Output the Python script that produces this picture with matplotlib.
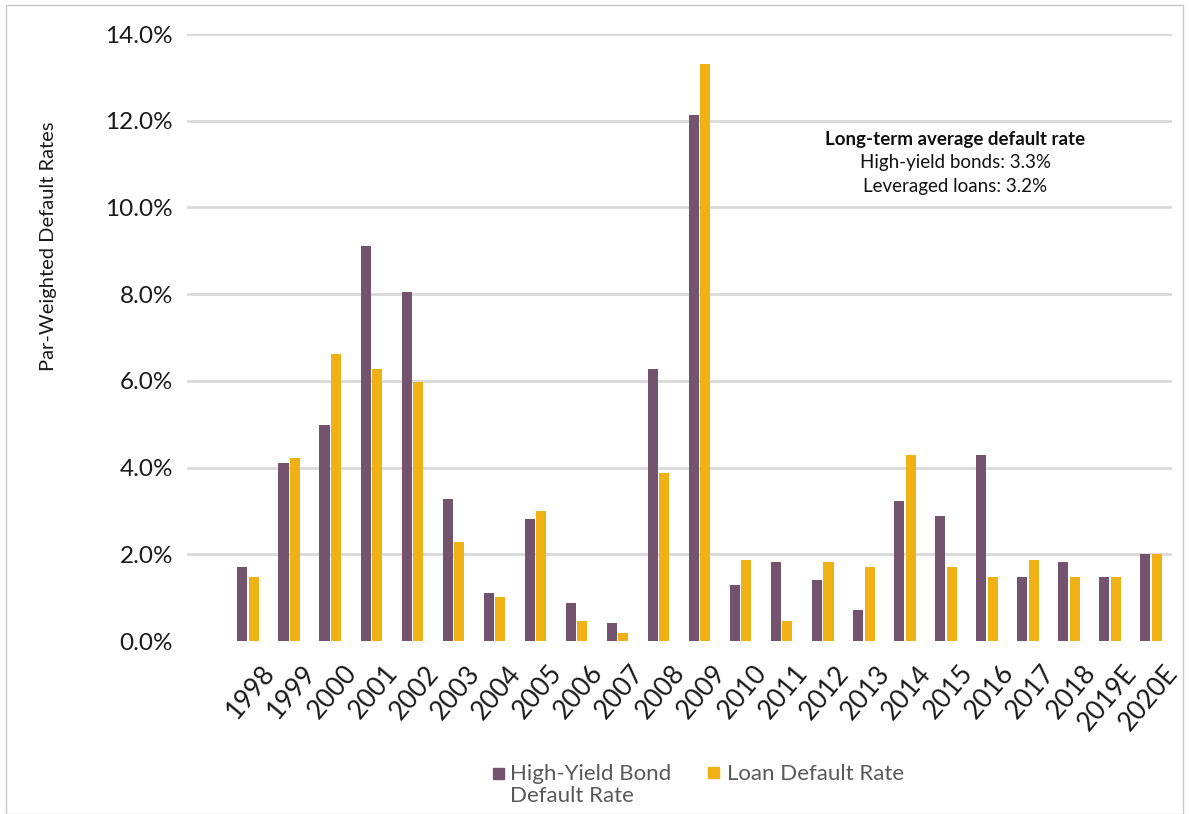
import numpy as np
import matplotlib
matplotlib.use("Agg")
import matplotlib.pyplot as plt
from matplotlib.patches import Rectangle
from matplotlib.transforms import ScaledTranslation

plt.rcParams["font.family"] = ["Lato", "DejaVu Sans"]

years = ["1998", "1999", "2000", "2001", "2002", "2003", "2004", "2005",
         "2006", "2007", "2008", "2009", "2010", "2011", "2012", "2013",
         "2014", "2015", "2016", "2017", "2018", "2019E", "2020E"]
bond_rates = [1.70, 4.11, 4.98, 9.10, 8.04, 3.28, 1.11, 2.82,
              0.88, 0.42, 6.27, 12.14, 1.29, 1.82, 1.41, 0.71,
              3.22, 2.88, 4.28, 1.47, 1.82, 1.47, 2.00]
loan_rates = [1.47, 4.23, 6.63, 6.27, 5.98, 2.29, 1.01, 2.99,
              0.47, 0.18, 3.87, 13.32, 1.88, 0.47, 1.82, 1.70,
              4.28, 1.70, 1.47, 1.88, 1.47, 1.47, 2.00]
y_ticks = [0, 2, 4, 6, 8, 10, 12, 14]

PURPLE = "#74536F"
GOLD = "#F0B114"

fig = plt.figure(figsize=(11.89, 8.14), dpi=100)
ax = fig.add_axes([0.1573, 0.2125, 0.8284, 0.7457])

x = np.arange(len(years))
w = 0.245
ax.bar(x - 0.14, bond_rates, width=w, color=PURPLE, zorder=3)
ax.bar(x + 0.14, loan_rates, width=w, color=GOLD, zorder=3)

ax.set_xlim(-1.49, 22.51)
ax.set_ylim(0, 14)
ax.set_yticks(y_ticks)
ax.set_yticklabels([f"{t:.1f}%" for t in y_ticks], fontsize=17.5, color="#1a1a1a")
ax.set_xticks(x)
ax.set_xticklabels(years, fontsize=19, color="#1a1a1a", rotation=50,
                   ha="right", va="center", rotation_mode="anchor")
ax.tick_params(axis="both", length=0)
ax.tick_params(axis="y", pad=10)
ax.tick_params(axis="x", pad=20)

# nudge the slanted year labels to the right of their bar pairs
shift = ScaledTranslation(0.22, 0, fig.dpi_scale_trans)
for lbl in ax.get_xticklabels():
    lbl.set_transform(lbl.get_transform() + shift)

for s in ax.spines.values():
    s.set_visible(False)
ax.yaxis.grid(True, color="#d9d9d9", linewidth=2, zorder=0)
ax.get_ygridlines()[0].set_visible(False)
ax.set_axisbelow(True)

fig.text(0.041, 0.697, "Par-Weighted Default Rates", rotation=90,
         ha="center", va="center", fontsize=14.5, color="#1a1a1a")

# note in the upper right
note_x = 955 / 1189
fig.text(note_x, 0.829, "Long-term average default rate",
         ha="center", va="center", fontsize=13.5, fontweight="bold", color="#111111")
fig.text(note_x, 0.800, "High-yield bonds: 3.3%",
         ha="center", va="center", fontsize=13.5, color="#111111")
fig.text(note_x, 0.771, "Leveraged loans: 3.2%",
         ha="center", va="center", fontsize=13.5, color="#111111")

# legend drawn by hand so the marker sits on the first line
fig.patches.append(Rectangle((493 / 1189, 1 - 779 / 814), 11 / 1189, 11 / 814,
                             transform=fig.transFigure, color=PURPLE))
fig.text(510 / 1189, 1 - 764 / 814, "High-Yield Bond\nDefault Rate",
         ha="left", va="top", fontsize=16, color="#595959", linespacing=1.15,
         transform=fig.transFigure)
fig.patches.append(Rectangle((708 / 1189, 1 - 778 / 814), 11 / 1189, 11 / 814,
                             transform=fig.transFigure, color=GOLD))
fig.text(727 / 1189, 1 - 764 / 814, "Loan Default Rate",
         ha="left", va="top", fontsize=16, color="#595959",
         transform=fig.transFigure)

# thin outer frame
fig.patches.append(Rectangle((6 / 1189, 0.0), 1 - 12 / 1189, 1 - 5 / 814,
                             transform=fig.transFigure, fill=False,
                             edgecolor="#c8c8c8", linewidth=1))

fig.savefig("out.png", dpi=100)
